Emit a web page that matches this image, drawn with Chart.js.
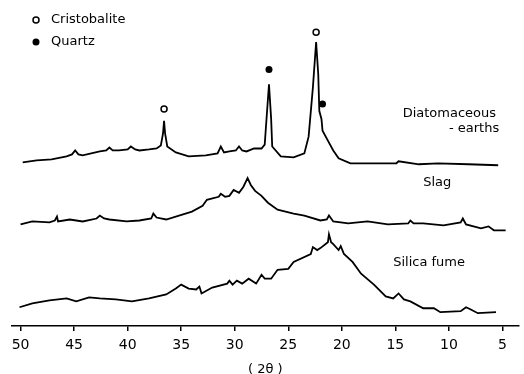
<!DOCTYPE html>
<html>
<head>
<meta charset="utf-8">
<script src="https://cdn.jsdelivr.net/npm/chart.js@4.4.0/dist/chart.umd.min.js"></script>
<style>
  html, body { margin: 0; padding: 0; background: #fff; }
  #wrap { width: 524px; height: 374px; }
</style>
</head>
<body>
<div id="wrap"><canvas id="xrd"></canvas></div>
<script>
// 2-theta tick labels
const tickValues = [50, 45, 40, 35, 30, 25, 20, 15, 10, 5];

// diatomaceous earths (2theta, intensity in arbitrary units incl. offset)
const diatomTheta = [49.8, 48.5, 47.1, 45.7, 45.2, 44.9, 44.6, 44.2, 42.6, 42.0, 41.7, 41.4, 40.8, 40.0, 39.7, 39.3, 38.9, 38.0, 37.3, 36.9, 36.7, 36.6, 36.5, 36.3, 35.5, 34.3, 32.7, 31.6, 31.3, 31.0, 30.5, 29.9, 29.6, 29.3, 28.9, 28.2, 27.5, 27.2, 27.0, 26.8, 26.6, 26.5, 25.7, 24.5, 23.5, 23.1, 22.7, 22.4, 22.2, 22.1, 21.9, 21.8, 21.3, 20.8, 20.3, 19.2, 16.6, 14.9, 14.7, 12.8, 11.0, 8.2, 5.4];
const diatomInt = [166, 168, 169, 172, 174, 178, 174, 173, 177, 178, 181, 178, 178, 179, 182, 179, 178, 179, 180, 183, 195, 208, 195, 182, 176, 172, 173, 175, 182, 176, 177, 178, 182, 178, 177, 180, 180, 184, 215, 245, 210, 182, 172, 171, 175, 192, 242, 288, 255, 218, 210, 198, 188, 178, 170, 165, 165, 165, 167, 164, 165, 164, 163];

// slag
const slagTheta = [50.0, 48.9, 47.3, 46.8, 46.6, 46.5, 45.4, 44.2, 42.9, 42.6, 42.2, 41.7, 40.1, 38.9, 37.8, 37.6, 37.3, 36.4, 34.9, 34.0, 33.0, 32.6, 31.5, 31.3, 30.9, 30.5, 30.1, 29.6, 29.2, 28.8, 28.5, 28.1, 27.5, 26.9, 26.0, 24.5, 23.5, 22.0, 21.4, 21.2, 20.8, 19.4, 17.6, 15.7, 13.8, 13.6, 13.3, 12.4, 10.5, 8.9, 8.7, 8.4, 7.0, 6.3, 5.8, 4.7];
const slagInt = [103, 106, 105, 107, 111, 106, 108, 106, 109, 112, 109, 108, 106, 107, 109, 114, 110, 108, 113, 116, 122, 128, 131, 134, 131, 132, 138, 135, 141, 150, 143, 137, 132, 125, 118, 114, 112, 107, 108, 112, 106, 104, 106, 103, 104, 107, 104, 104, 102, 105, 109, 103, 99, 101, 97, 97];

// silica fume
const fumeTheta = [50.1, 48.9, 47.3, 45.7, 44.8, 43.6, 42.6, 41.1, 39.6, 38.0, 36.4, 35.5, 35.0, 34.3, 33.6, 33.3, 33.1, 32.1, 30.7, 30.5, 30.2, 29.8, 29.3, 28.7, 28.0, 27.5, 27.2, 26.6, 26.0, 25.0, 24.5, 22.9, 22.7, 22.3, 22.0, 21.3, 21.2, 21.0, 20.8, 20.3, 20.1, 19.8, 19.0, 18.2, 17.0, 15.9, 15.2, 14.7, 14.2, 13.6, 12.4, 11.4, 10.8, 8.9, 8.4, 8.0, 7.3, 5.6];
const fumeInt = [19, 23, 26, 28, 25, 29, 28, 27, 25, 28, 32, 38, 42, 38, 37, 40, 33, 39, 43, 46, 42, 46, 43, 48, 43, 52, 48, 48, 57, 58, 65, 73, 80, 77, 79, 85, 93, 85, 83, 77, 81, 73, 65, 53, 42, 30, 28, 33, 27, 25, 18, 18, 14, 15, 19, 17, 13, 14];

// phase markers above peaks
const cristTheta = [36.6, 22.4];
const cristInt = [220, 298];
const quartzTheta = [26.8, 21.8];
const quartzInt = [260, 225];

function toPoints(xs, ys) {
    return xs.map((x, i) => ({ x: x, y: ys[i] }));
}

const FONT = 'DejaVu Sans';

// legend and curve names, drawn at data positions
const labelPlugin = {
    id: 'labels',
    afterDraw(chart) {
        const ctx = chart.ctx;
        const xs = chart.scales.x;
        const ys = chart.scales.y;
        ctx.save();
        ctx.fillStyle = '#000';
        ctx.strokeStyle = '#000';
        ctx.font = '13px ' + FONT;
        ctx.textBaseline = 'middle';

        // legend
        ctx.lineWidth = 1.5;
        ctx.beginPath();
        ctx.arc(36, 20, 3, 0, Math.PI * 2);
        ctx.stroke();
        ctx.beginPath();
        ctx.arc(36, 42, 3.5, 0, Math.PI * 2);
        ctx.fill();
        ctx.textAlign = 'left';
        ctx.fillText('Cristobalite', 51, 20);
        ctx.fillText('Quartz', 51, 42);

        ctx.textAlign = 'right';
        ctx.fillText('Diatomaceous', xs.getPixelForValue(5.6), ys.getPixelForValue(215));
        ctx.fillText('- earths', xs.getPixelForValue(5.3), ys.getPixelForValue(200));
        ctx.textAlign = 'left';
        ctx.fillText('Slag', xs.getPixelForValue(12.4), ys.getPixelForValue(145));
        ctx.fillText('Silica fume', xs.getPixelForValue(15.2), ys.getPixelForValue(64));
        ctx.restore();
    }
};

const lineStyle = {
    borderColor: '#000',
    borderWidth: 1.8,
    pointRadius: 0,
    tension: 0,
    fill: false
};

new Chart(document.getElementById('xrd'), {
    type: 'scatter',
    data: {
        datasets: [
            Object.assign({ label: 'Diatomaceous earths', data: toPoints(diatomTheta, diatomInt), showLine: true }, lineStyle),
            Object.assign({ label: 'Slag', data: toPoints(slagTheta, slagInt), showLine: true }, lineStyle),
            Object.assign({ label: 'Silica fume', data: toPoints(fumeTheta, fumeInt), showLine: true }, lineStyle),
            {
                label: 'Cristobalite',
                data: toPoints(cristTheta, cristInt),
                pointRadius: 3,
                pointBorderWidth: 1.5,
                pointBackgroundColor: '#fff',
                pointBorderColor: '#000'
            },
            {
                label: 'Quartz',
                data: toPoints(quartzTheta, quartzInt),
                pointRadius: 3.5,
                pointBorderWidth: 0,
                pointBackgroundColor: '#000',
                pointBorderColor: '#000'
            }
        ]
    },
    options: {
        responsive: true,
        maintainAspectRatio: false,
        animation: false,
        layout: { padding: { left: 12, right: 4, top: 0, bottom: -4 } },
        plugins: {
            legend: { display: false },
            tooltip: { enabled: false }
        },
        scales: {
            x: {
                type: 'linear',
                reverse: true,
                min: 3.5,
                max: 50.8,
                afterBuildTicks(axis) {
                    axis.ticks = tickValues.map(v => ({ value: v }));
                },
                grid: {
                    drawOnChartArea: false,
                    drawTicks: true,
                    tickLength: 5,
                    color: '#000',
                    lineWidth: 1.5
                },
                border: { color: '#000', width: 1.5 },
                ticks: {
                    color: '#000',
                    font: { family: FONT, size: 14, lineHeight: 1 },
                    padding: 7,
                    maxRotation: 0
                },
                title: {
                    display: true,
                    text: '( 2θ )',
                    color: '#000',
                    font: { family: FONT, size: 13, lineHeight: 1 },
                    padding: { top: 4, bottom: 2 }
                }
            },
            y: {
                display: false,
                min: 0,
                max: 325
            }
        }
    },
    plugins: [labelPlugin]
});
</script>
</body>
</html>
